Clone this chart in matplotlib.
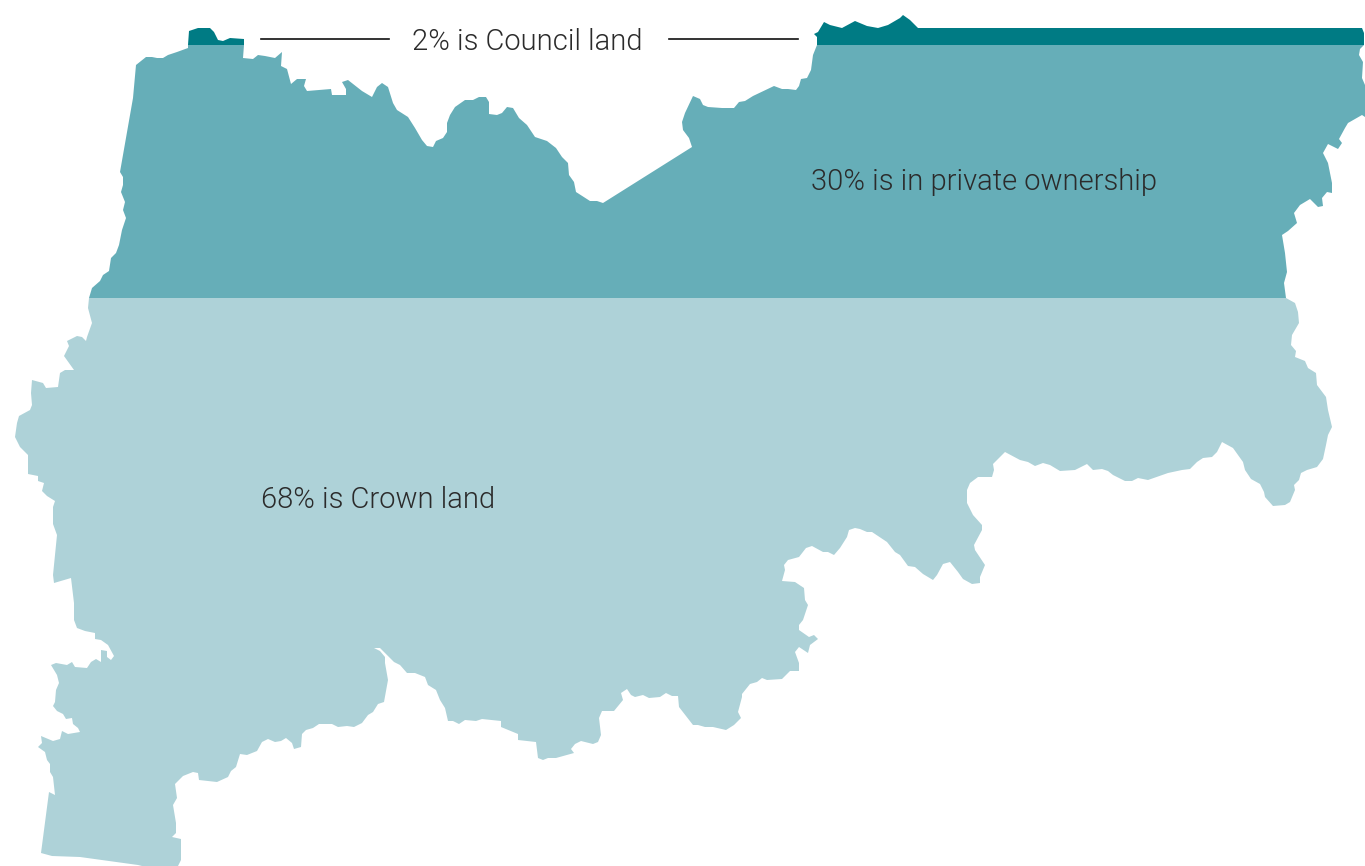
import matplotlib
matplotlib.use("Agg")
import matplotlib.pyplot as plt

# outlines, in picture pixels
council_left = [(188,45),(189,31),(198,28),(210,28),(214,32),(218,40),(223,41),(230,38),(244,39),(244,45)]
council_right = [(817,45),(817,37),(814,34),(818,32),(824,22),(830,25),(842,28),(855,21),(867,26),(878,28),
                 (888,25),(900,18),(903,15),(910,20),(918,28),(1362,28),(1364,33),(1364,45)]

private_land = [(188,45),(188,48),(177,52),(168,55),(163,58),(157,58),(152,57),(146,57),(136,65),(133,98),
    (120,172),(123,177),(123,185),(121,192),(125,202),(123,210),(126,218),(122,230),(119,245),(116,253),
    (111,258),(109,271),(103,275),(100,281),(92,288),(89,298),(1286,298),(1284,283),(1287,272),(1285,253),
    (1282,235),(1288,231),(1297,223),(1294,213),(1300,205),(1310,199),(1318,207),(1323,206),(1322,198),
    (1327,192),(1332,193),(1332,183),(1328,163),(1323,153),(1328,144),(1338,149),(1342,143),(1339,139),
    (1345,128),(1348,123),(1362,115),(1365,117),(1365,85),(1362,78),(1363,62),(1359,55),(1360,49),(1364,45),
    (817,45),(813,55),(811,70),(807,78),(801,79),(799,86),(796,90),(788,89),(782,89),(774,86),(753,96),
    (745,101),(739,102),(734,108),(722,108),(708,107),(703,105),(700,99),(693,96),(685,113),(682,122),
    (683,130),(689,138),(692,147),(603,203),(597,201),(590,201),(576,192),(574,182),(569,175),(568,163),
    (562,157),(556,148),(547,141),(535,137),(527,125),(519,118),(513,108),(507,107),(502,113),(497,115),
    (489,114),(489,102),(486,97),(479,97),(473,100),(465,100),(455,107),(450,115),(447,123),(447,132),
    (443,138),(436,141),(433,147),(427,146),(422,140),(415,128),(408,117),(397,110),(393,103),(388,87),
    (382,83),(377,87),(372,97),(362,91),(348,80),(342,82),(346,89),(346,95),(332,95),(331,89),(307,91),
    (304,86),(306,79),(297,79),(291,84),(287,69),(281,66),(282,52),(275,58),(265,56),(258,55),(253,59),
    (243,58),(244,45)]

crown_land = [(89,298),(88,308),(92,323),(87,337),(86,341),(82,337),(77,336),(67,341),(69,346),(64,356),
    (74,370),(65,370),(60,373),(58,387),(46,388),(43,383),(32,380),(31,393),(32,405),(30,410),(19,416),
    (17,423),(15,437),(20,447),(28,455),(28,474),(38,476),(38,481),(44,483),(42,491),(47,496),(55,501),
    (53,507),(53,524),(57,535),(53,575),(54,583),(71,578),(74,603),(74,620),(77,628),(85,631),(95,633),
    (95,639),(101,640),(108,645),(114,656),(111,660),(107,657),(107,651),(101,650),(101,662),(96,659),
    (91,662),(87,668),(75,667),(72,662),(67,665),(56,663),(51,665),(57,675),(59,683),(56,690),(55,702),
    (53,706),(57,711),(63,714),(66,719),(72,718),(73,724),(78,728),(80,732),(68,734),(62,731),(60,739),
    (53,741),(41,736),(42,743),(38,747),(45,752),(47,760),(50,764),(50,772),(53,777),(55,795),(49,792),
    (41,853),(52,856),(80,857),(138,865),(142,866),(178,866),(181,860),(181,839),(172,837),(176,833),
    (176,823),(173,805),(177,798),(175,784),(183,776),(193,772),(198,773),(199,780),(217,782),(228,777),
    (231,771),(236,767),(240,754),(247,755),(257,751),(262,742),(268,739),(275,742),(281,741),(286,738),
    (292,743),(294,749),(301,747),(302,734),(306,730),(313,728),(319,724),(332,724),(338,727),(347,726),
    (354,727),(362,723),(368,715),(373,712),(378,704),(384,702),(388,680),(385,663),(385,657),(380,651),
    (374,648),(380,648),(387,655),(394,662),(400,665),(407,673),(415,673),(425,677),(428,685),(436,690),
    (440,700),(445,708),(448,721),(453,721),(459,724),(465,720),(476,721),(482,719),(501,721),(501,727),
    (518,734),(518,740),(536,742),(538,758),(543,760),(548,758),(556,758),(574,753),(571,749),(575,744),
    (581,741),(593,744),(598,742),(601,735),(599,718),(602,711),(614,711),(623,700),(621,693),(627,689),
    (631,695),(635,697),(643,695),(649,698),(660,697),(666,693),(672,696),(678,696),(679,707),(693,725),
    (698,725),(705,727),(713,727),(726,730),(734,725),(741,718),(738,712),(742,697),(742,694),(750,684),
    (757,682),(762,678),(767,680),(782,679),(790,671),(799,671),(799,663),(795,652),(799,647),(808,653),
    (810,645),(818,639),(814,635),(809,637),(799,630),(799,625),(803,620),(808,605),(805,600),(804,588),
    (795,582),(782,581),(785,570),(784,565),(788,560),(799,557),(806,548),(812,546),(823,552),(828,552),
    (834,555),(840,548),(847,537),(849,530),(855,528),(860,529),(867,532),(872,532),(887,542),(895,552),
    (900,555),(908,566),(915,567),(923,574),(933,580),(937,575),(943,564),(950,562),(958,572),(963,579),
    (972,584),(980,583),(980,577),(985,565),(975,550),(974,545),(982,530),(982,525),(973,515),(967,503),
    (967,498),(967,490),(970,483),(978,477),(992,477),(994,470),(993,464),(1005,452),(1020,460),(1028,462),
    (1035,466),(1043,463),(1050,465),(1060,471),(1075,470),(1087,464),(1093,470),(1102,469),(1108,471),
    (1113,475),(1125,481),(1132,481),(1138,478),(1148,480),(1168,473),(1182,470),(1190,469),(1197,462),
    (1203,458),(1212,457),(1217,452),(1222,442),(1233,448),(1243,462),(1245,470),(1251,479),(1260,484),
    (1264,492),(1265,497),(1273,506),(1285,505),(1290,502),(1295,490),(1294,485),(1299,480),(1301,473),
    (1307,470),(1317,467),(1323,459),(1326,445),(1328,435),(1332,427),(1328,410),(1326,397),(1317,385),
    (1316,373),(1308,368),(1305,361),(1295,357),(1296,351),(1291,345),(1292,335),(1299,323),(1298,312),
    (1295,303),(1286,298)]

labels = ["2% is Council land", "30% is in private ownership", "68% is Crown land"]

dark = "#007b84"
mid = "#66aeb8"
light = "#aed2d8"
ink = "#2b2b2b"

fig = plt.figure(figsize=(13.65, 8.66), dpi=100)
ax = fig.add_axes([0, 0, 1, 1])
ax.set_xlim(0, 1365)
ax.set_ylim(866, 0)
ax.axis("off")

for shape, colour in [(crown_land, light), (private_land, mid), (council_left, dark), (council_right, dark)]:
    ax.fill([p[0] for p in shape], [p[1] for p in shape], color=colour, lw=0)

ax.plot([261, 389], [38.5, 38.5], color="#111111", lw=1.2)
ax.plot([669, 798], [38.5, 38.5], color="#111111", lw=1.2)

ax.text(412, 49.5, labels[0], fontsize=21, family="Roboto", weight=300, color=ink, va="baseline")
ax.text(811, 190.5, labels[1], fontsize=21, family="Roboto", weight=300, color=ink, va="baseline")
ax.text(261, 507.5, labels[2], fontsize=21, family="Roboto", weight=300, color=ink, va="baseline")

fig.savefig("out.png", dpi=100)
